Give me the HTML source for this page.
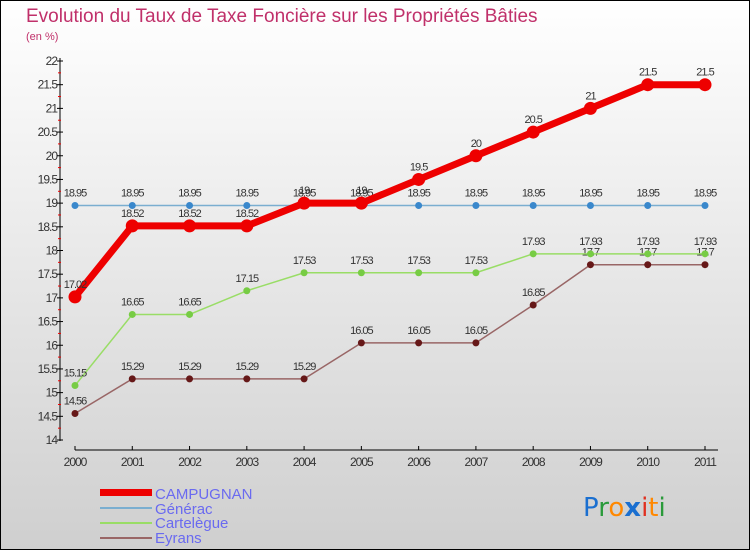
<!DOCTYPE html>
<html><head><meta charset="utf-8"><style>
html,body{margin:0;padding:0}
body{width:750px;height:550px;overflow:hidden;font-family:"Liberation Sans",sans-serif}
svg{display:block}
</style></head><body>
<svg id="c" width="750" height="550" xmlns="http://www.w3.org/2000/svg">
<defs><linearGradient id="bg" x1="0" y1="0" x2="0" y2="1"><stop offset="0" stop-color="#ffffff"/><stop offset="1" stop-color="#cfcfcf"/></linearGradient></defs>
<rect x="0.5" y="0.5" width="749" height="549" fill="url(#bg)" stroke="#000"/>
<text x="26" y="22" font-size="19" fill="#c0306a">Evolution du Taux de Taxe Foncière sur les Propriétés Bâties</text>
<text x="26" y="40" font-size="11" fill="#c0306a">(en %)</text>
<g id="axes"></g><g id="series"></g>
<g>
<rect x="100" y="489" width="52" height="7" fill="#e00"/>
<text x="155" y="499" font-size="15" fill="#6a6af0">CAMPUGNAN</text>
<line x1="100" y1="508" x2="152" y2="508" stroke="#7aaed0" stroke-width="2"/>
<text x="155" y="514" font-size="15" fill="#6a6af0">Générac</text>
<line x1="100" y1="523" x2="152" y2="523" stroke="#99dd66" stroke-width="2"/>
<text x="155" y="528" font-size="15" fill="#6a6af0">Cartelègue</text>
<line x1="100" y1="538" x2="152" y2="538" stroke="#996666" stroke-width="2"/>
<text x="155" y="543" font-size="15" fill="#6a6af0">Eyrans</text>
</g>
<g font-size="26" font-family="'DejaVu Sans',sans-serif">
<text x="583" y="516"><tspan fill="#1a6fd0">P</tspan><tspan fill="#2a9a3a">r</tspan><tspan fill="#ff8800">o</tspan><tspan fill="#1a6fd0" font-weight="bold">x</tspan><tspan fill="#e03020">i</tspan><tspan fill="#ff8800">t</tspan><tspan fill="#2a9a3a">i</tspan></text>
</g>
</svg>
<script>
const years=["2000","2001","2002","2003","2004","2005","2006","2007","2008","2009","2010","2011"];
const campugnan=[17.02,18.52,18.52,18.52,19,19,19.5,20,20.5,21,21.5,21.5];
const generac=[18.95,18.95,18.95,18.95,18.95,18.95,18.95,18.95,18.95,18.95,18.95,18.95];
const cartelegue=[15.15,16.65,16.65,17.15,17.53,17.53,17.53,17.53,17.93,17.93,17.93,17.93];
const eyrans=[14.56,15.29,15.29,15.29,15.29,16.05,16.05,16.05,16.85,17.7,17.7,17.7];
const yTicks=[14,14.5,15,15.5,16,16.5,17,17.5,18,18.5,19,19.5,20,20.5,21,21.5,22];
const NS="http://www.w3.org/2000/svg";
const X=i=>75+i*(630/(years.length-1));
const Y=v=>440-(v-14)*(379/8);
function mk(t,a,p){const e=document.createElementNS(NS,t);for(const k in a)e.setAttribute(k,a[k]);p.appendChild(e);return e;}
const ax=document.getElementById('axes');
mk('line',{x1:60,y1:58,x2:60,y2:441,stroke:'#000'},ax);
mk('line',{x1:75,y1:450,x2:718,y2:450,stroke:'#000'},ax);
yTicks.forEach(v=>{
 const t=mk('text',{x:57,y:Y(v)+4,'font-size':12,fill:'#333','text-anchor':'end','letter-spacing':'-1'},ax);
 t.textContent=v;
 
 
 mk('line',{x1:57,y1:Y(v),x2:63,y2:Y(v),stroke:'#000'},ax);
 if(v<22)mk('line',{x1:58,y1:Y(v+0.25),x2:61,y2:Y(v+0.25),stroke:'#e00'},ax);
});
years.forEach((y,i)=>{
 mk('line',{x1:X(i),y1:446,x2:X(i),y2:450,stroke:'#000'},ax);
 const t=mk('text',{x:X(i),y:466,'font-size':12,fill:'#333','text-anchor':'middle','letter-spacing':'-1'},ax);
 t.textContent=y;
 
 
});
const sg=document.getElementById('series');
function draw(name,vals,color,w,r,dot,labColor){
 const g=mk('g',{},sg);
 
 
 const pl=mk('polyline',{points:vals.map((v,i)=>X(i)+','+Y(v)).join(' '),fill:'none',stroke:color,'stroke-width':w,'stroke-linejoin':'round'},g);
 
 
 vals.forEach((v,i)=>{
  const c=mk('circle',{cx:X(i),cy:Y(v),r:r,fill:dot},g);
  
  
  const t=mk('text',{x:X(i),y:Y(v)-9,'font-size':11,fill:'#333','text-anchor':'middle','letter-spacing':'-1'},g);
  t.textContent=v;
  
  
 });
}
draw('eyrans',eyrans,'#996666',1.5,3.5,'#661818');
draw('cartelegue',cartelegue,'#99dd66',1.5,3.5,'#77cc44');
draw('generac',generac,'#7aaed0',1.5,3.5,'#3a88cc');
draw('campugnan',campugnan,'#ee0000',7,6.5,'#ee0000');
</script>
</body></html>
